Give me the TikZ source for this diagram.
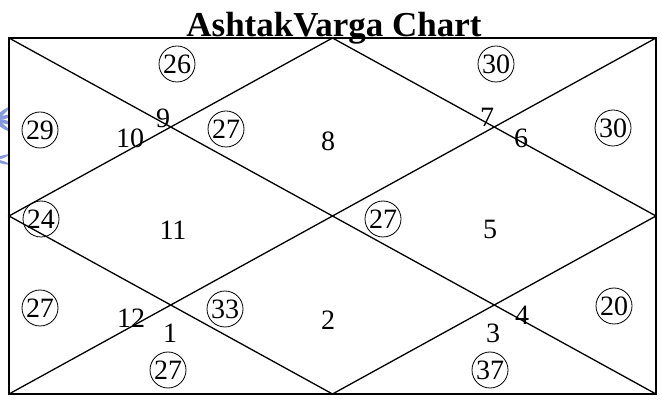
\documentclass[tikz,border=0pt]{standalone}
\usepackage{fontspec}
\setmainfont{Liberation Serif}
\begin{document}
\begin{tikzpicture}[x=1pt,y=-1pt,
  num/.style={font=\fontsize{28}{28}\selectfont, inner sep=0pt},
  cnum/.style={num, draw, circle, minimum size=36pt, line width=0.8pt},
  ln/.style={line width=1.3pt},
  petal/.style={fill={rgb,255:red,135;green,155;blue,220}, draw=none}]
\useasboundingbox (0,0) rectangle (662,403);
% faint decoration at the left edge
\begin{scope}
\clip (0,95) rectangle (9,175);
\foreach \a in {-40,-15,10,35} {
  \fill[petal] (-6,120) -- ++(\a:3) .. controls ++(\a+30:9) and ++(\a:-7) .. ++(\a:22) .. controls ++(\a:-7) and ++(\a-30:9) .. (-6,120);
}
\foreach \a in {-20,15} {
  \fill[petal] (-6,160) -- ++(\a:3) .. controls ++(\a+30:7) and ++(\a:-5) .. ++(\a:17) .. controls ++(\a:-5) and ++(\a-30:7) .. (-6,160);
}
\end{scope}
% frame
\coordinate (tl) at (9,38);
\coordinate (tr) at (656,38);
\coordinate (br) at (656,394);
\coordinate (bl) at (9,394);
\coordinate (tm) at (332.5,38);
\coordinate (rm) at (656,216);
\coordinate (bm) at (332.5,394);
\coordinate (lm) at (9,216);
\draw[line width=1.6pt] (tl) -- (tr) -- (br) -- (bl) -- cycle;
\draw[ln] (tl) -- (br);
\draw[ln] (tr) -- (bl);
\draw[ln] (tm) -- (rm) -- (bm) -- (lm) -- cycle;
% title
\node[font=\fontsize{35}{35}\selectfont\bfseries, inner sep=0pt, anchor=base] (title) at (334,37) {AshtakVarga Chart};
% house numbers
\node[num] (h1) at (170,333) {1};
\node[num] (h2) at (328,320) {2};
\node[num] (h3) at (493,333) {3};
\node[num] (h4) at (522,315) {4};
\node[num] (h5) at (490,229) {5};
\node[num] (h6) at (521,138) {6};
\node[num] (h7) at (487,117) {7};
\node[num] (h8) at (328,141) {8};
\node[num] (h9) at (163,118) {9};
\node[num] (h10) at (130,138) {10};
\node[num] (h11) at (173,230) {11};
\node[num] (h12) at (131,318) {12};
% circled values
\node[cnum] (c26) at (177,64) {26};
\node[cnum] (c30a) at (496,64) {30};
\node[cnum] (c29) at (40,130) {29};
\node[cnum] (c27a) at (226,129) {27};
\node[cnum] (c30b) at (613,128) {30};
\node[cnum] (c24) at (41,219) {24};
\node[cnum] (c27b) at (383,219) {27};
\node[cnum] (c27c) at (40,308) {27};
\node[cnum] (c33) at (225,309) {33};
\node[cnum] (c20) at (614,306) {20};
\node[cnum] (c27d) at (168,370) {27};
\node[cnum] (c37) at (490,370) {37};
\end{tikzpicture}
\end{document}
